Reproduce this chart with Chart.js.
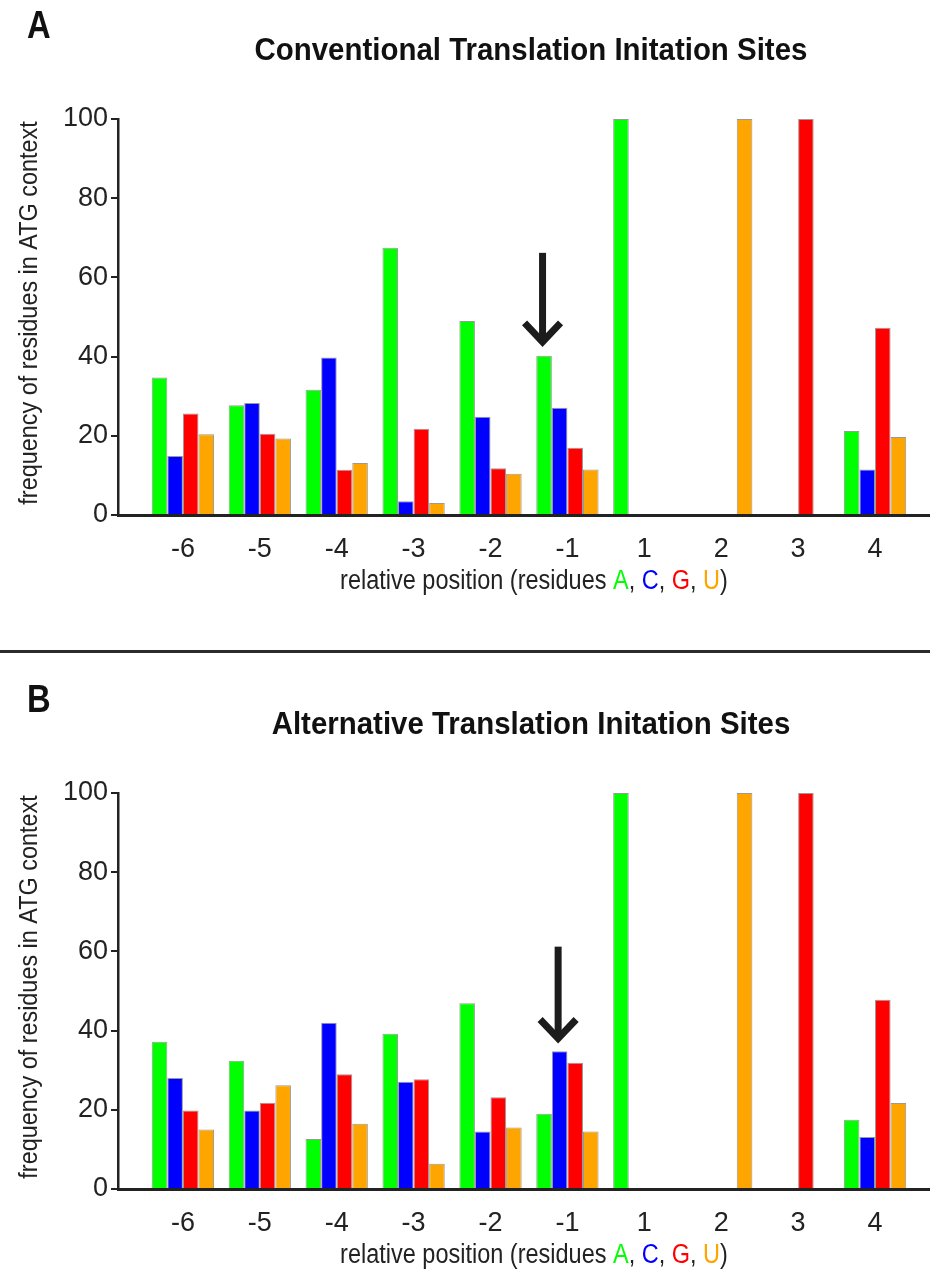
<!DOCTYPE html>
<html>
<head>
<meta charset="utf-8">
<script src="https://cdn.jsdelivr.net/npm/chart.js@4/dist/chart.umd.min.js"></script>
<style>
  html, body { margin: 0; padding: 0; background: #fff; overflow: hidden; }
  #wrap { position: relative; width: 930px; height: 1271px; }
  canvas { position: absolute; left: 0; }
  #chartA { top: 0; }
  #chartB { top: 674px; }
  .sep { position: absolute; left: 0; top: 650px; width: 930px; height: 3px; background: #2b2b2b; }
</style>
</head>
<body>
<div id="wrap">
  <canvas id="chartA" width="930" height="597"></canvas>
  <div class="sep"></div>
  <canvas id="chartB" width="930" height="597"></canvas>
</div>
<script>
// positions relative to the ATG start codon
const positions = ['-6', '-5', '-4', '-3', '-2', '-1', '1', '2', '3', '4'];
const residues = ['A', 'C', 'G', 'U'];
const residueColors = ['#00ff00', '#0000ff', '#ff0000', '#ffa500'];
const yTicks = [0, 20, 40, 60, 80, 100];

// A: conventional sites
const convA = [34.7, 27.7, 31.6, 67.5, 49.0, 40.2, 100, null, null, 21.2];
const convC = [14.9, 28.3, 39.8, 3.5, 24.8, 27.1, null, null, null, 11.5];
const convG = [25.6, 20.5, 11.4, 21.8, 11.8, 17.0, null, null, 100, 47.3];
const convU = [20.4, 19.3, 13.1, 3.0, 10.4, 11.5, null, 100, null, 19.7];

// B: alternative sites
const altA = [37.2, 32.4, 12.6, 39.2, 46.9, 19.0, 100, null, null, 17.5];
const altC = [28.0, 19.8, 42.0, 27.1, 14.5, 34.8, null, null, null, 13.1];
const altG = [19.8, 21.8, 29.0, 27.7, 23.2, 31.9, null, null, 100, 47.8];
const altU = [15.0, 26.2, 16.5, 6.4, 15.5, 14.5, null, 100, null, 21.7];

// arrows: [position, residue, from value, to value]
const convArrow = ['-1', 'A', 66.2, 43.7];
const altArrow = ['-1', 'C', 61.2, 38.0];

const TEXT_FONT = "'Liberation Sans', Arial, sans-serif";
const INK = '#222';

Chart.defaults.font.family = TEXT_FONT;
Chart.defaults.color = INK;

// squeezed text, to get close to the condensed face of the original
function narrowText(ctx, text, x, y, sx) {
  ctx.save();
  ctx.translate(x, y);
  ctx.scale(sx, 1);
  ctx.fillText(text, 0, 0);
  ctx.restore();
}

// letter, title, axis titles and the arrow
const panelDeco = {
  id: 'panelDeco',
  afterDatasetsDraw(chart, args, opts) {
    const [pos, res, from, to] = opts.arrow;
    const bar = chart.getDatasetMeta(residues.indexOf(res)).data[positions.indexOf(pos)];
    const y = chart.scales.y;
    const x = bar.x - 1.5;
    const y0 = y.getPixelForValue(from), y1 = y.getPixelForValue(to);
    const ctx = chart.ctx;
    ctx.save();
    ctx.strokeStyle = '#1c1c1c';
    ctx.lineWidth = 7;
    ctx.lineJoin = 'miter';
    ctx.beginPath();
    ctx.moveTo(x, y0);
    ctx.lineTo(x, y1 - 3);
    ctx.stroke();
    ctx.beginPath();
    ctx.moveTo(x - 18, y1 - 19);
    ctx.lineTo(x, y1);
    ctx.lineTo(x + 18, y1 - 19);
    ctx.stroke();
    ctx.restore();
  },
  afterDraw(chart, args, opts) {
    const ctx = chart.ctx;
    const xs = chart.scales.x;
    const area = chart.chartArea;
    const mid = (xs.getPixelForValue(0) + xs.getPixelForValue(positions.length - 1)) / 2;
    ctx.save();
    ctx.fillStyle = '#111';
    ctx.textBaseline = 'alphabetic';
    ctx.textAlign = 'left';
    ctx.font = 'bold 39px ' + TEXT_FONT;
    narrowText(ctx, opts.letter, 27, 38, 0.84);

    ctx.textAlign = 'center';
    ctx.textBaseline = 'middle';
    ctx.font = 'bold 32px ' + TEXT_FONT;
    narrowText(ctx, opts.title, mid + 2, 51, 0.92);

    // y axis title
    ctx.fillStyle = INK;
    ctx.font = '26px ' + TEXT_FONT;
    ctx.save();
    ctx.translate(30, (area.top + area.bottom) / 2 - 4);
    ctx.rotate(-Math.PI / 2);
    narrowText(ctx, 'frequency of residues in ATG context', 0, 0, 0.9);
    ctx.restore();

    // x axis title with coloured residues
    const parts = [['relative position (residues ', INK]];
    residues.forEach((r, i) => {
      parts.push([r, residueColors[i]]);
      parts.push([i < residues.length - 1 ? ', ' : ')', INK]);
    });
    const sx = 0.87;
    ctx.font = '27px ' + TEXT_FONT;
    ctx.textAlign = 'left';
    const total = parts.reduce((w, p) => w + ctx.measureText(p[0]).width * sx, 0);
    let cx = mid + 5 - total / 2;
    const ty = area.bottom + 67;
    parts.forEach(([t, c]) => {
      ctx.fillStyle = c;
      narrowText(ctx, t, cx, ty, sx);
      cx += ctx.measureText(t).width * sx;
    });
    ctx.restore();
  }
};

function makeChart(id, letter, title, series, arrow) {
  const datasets = residues.map((r, i) => ({
    label: r,
    data: series[i].map((v, j) => ({ x: j, y: v })),
    backgroundColor: residueColors[i],
    borderColor: 'rgba(110,110,110,0.7)',
    borderWidth: 1,
    borderSkipped: 'bottom',
    categoryPercentage: 0.81,
    barPercentage: 1.0
  }));

  return new Chart(document.getElementById(id), {
    type: 'bar',
    data: { datasets },
    plugins: [panelDeco],
    options: {
      responsive: false,
      animation: false,
      events: [],
      layout: { padding: { top: 119, left: 0, right: 0, bottom: 0 } },
      plugins: {
        legend: { display: false },
        tooltip: { enabled: false },
        panelDeco: { letter, title, arrow }
      },
      scales: {
        x: {
          type: 'linear',
          offset: false,
          min: -0.844,
          max: 9.715,
          afterBuildTicks: s => { s.ticks = positions.map((p, i) => ({ value: i })); },
          afterFit: s => { s.height = 82; },
          ticks: {
            callback: v => positions[v],
            font: { size: 27 },
            color: INK,
            padding: 18,
            autoSkip: false,
            maxRotation: 0
          },
          grid: { display: false, drawTicks: false, offset: false },
          border: { display: true, color: INK, width: 3 }
        },
        y: {
          min: 0,
          max: 100,
          afterBuildTicks: s => { s.ticks = yTicks.map(v => ({ value: v })); },
          afterFit: s => { s.width = 118; },
          ticks: { font: { size: 27 }, color: INK, padding: 3 },
          grid: { drawOnChartArea: false, drawTicks: true, tickLength: 7, color: INK, lineWidth: 2 },
          border: { display: true, color: INK, width: 2.5 }
        }
      }
    }
  });
}

makeChart('chartA', 'A', 'Conventional Translation Initation Sites', [convA, convC, convG, convU], convArrow);
makeChart('chartB', 'B', 'Alternative Translation Initation Sites', [altA, altC, altG, altU], altArrow);
</script>
</body>
</html>
